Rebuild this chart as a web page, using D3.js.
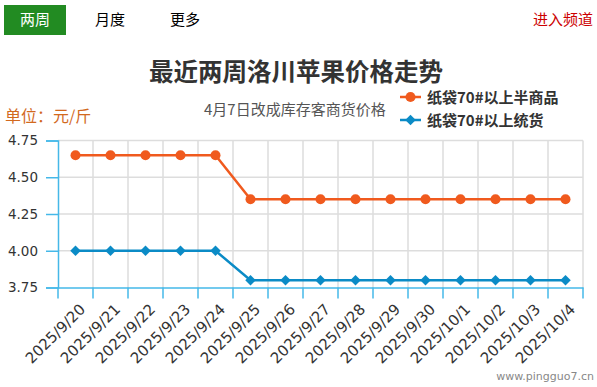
<!DOCTYPE html>
<html>
<head>
<meta charset="utf-8">
<script src="https://cdn.jsdelivr.net/npm/d3@7"></script>
<style>
  body { margin: 0; background: #fff; }
  svg { display: block; font-family: "Noto Sans CJK SC", "DejaVu Sans", sans-serif; }
</style>
</head>
<body>
<div id="root"></div>
<script>
const dates = ["2025/9/20", "2025/9/21", "2025/9/22", "2025/9/23", "2025/9/24", "2025/9/25", "2025/9/26",
  "2025/9/27", "2025/9/28", "2025/9/29", "2025/9/30", "2025/10/1", "2025/10/2", "2025/10/3", "2025/10/4"];
const halfGoods = [4.65, 4.65, 4.65, 4.65, 4.65, 4.35, 4.35, 4.35, 4.35, 4.35, 4.35, 4.35, 4.35, 4.35, 4.35];
const tongHuo = [4.00, 4.00, 4.00, 4.00, 4.00, 3.80, 3.80, 3.80, 3.80, 3.80, 3.80, 3.80, 3.80, 3.80, 3.80];
const yTicks = [3.75, 4.00, 4.25, 4.50, 4.75];
const tabs = ["两周", "月度", "更多"];

const width = 597, height = 387;
const orange = "#f05a1e", blue = "#0b8bc6", axisBlue = "#45b8e8";

const svg = d3.select("#root").append("svg").attr("width", width).attr("height", height);

// tabs
svg.append("rect").attr("x", 4).attr("y", 5).attr("width", 62).attr("height", 30).attr("fill", "#228b22");
svg.selectAll("text.tab").data(tabs).join("text")
  .attr("class", "tab")
  .attr("x", (d, i) => 35 + i * 75).attr("y", 25)
  .attr("text-anchor", "middle").attr("font-size", 15)
  .attr("fill", (d, i) => i == 0 ? "#fff" : "#000")
  .text(d => d);
svg.append("text").attr("x", 593).attr("y", 25).attr("text-anchor", "end")
  .attr("font-size", 15).attr("fill", "#cc0000").text("进入频道");

// titles
svg.append("text").attr("x", 296).attr("y", 81).attr("text-anchor", "middle")
  .attr("font-size", 24.5).attr("font-weight", "bold").attr("fill", "#333").text("最近两周洛川苹果价格走势");
svg.append("text").attr("x", 5).attr("y", 122).attr("font-size", 16).attr("fill", "#d2691e").text("单位：元/斤");
svg.append("text").attr("x", 204).attr("y", 115).attr("font-size", 15).attr("fill", "#555").text("4月7日改成库存客商货价格");

const x = d3.scaleBand().domain(dates).range([58, 583]);
const y = d3.scaleLinear().domain([3.75, 4.75]).range([287.5, 140.5]);

// grid
const grid = svg.append("g").attr("stroke", "#ddd").attr("stroke-width", 1.5);
grid.selectAll("line.v").data(dates.slice(1).concat(["end"])).join("line")
  .attr("x1", (d, i) => x(dates[0]) + (i + 1) * x.bandwidth())
  .attr("x2", (d, i) => x(dates[0]) + (i + 1) * x.bandwidth())
  .attr("y1", y(4.75)).attr("y2", y(3.75));
grid.selectAll("line.h").data(yTicks.slice(1)).join("line")
  .attr("x1", 58).attr("x2", 583)
  .attr("y1", d => y(d)).attr("y2", d => y(d));

// axes
const yAxis = d3.axisLeft(y).tickValues(yTicks).tickFormat(d3.format(".2f")).tickSize(12).tickPadding(8);
const gy = svg.append("g").attr("transform", "translate(58,0)").call(yAxis);
gy.selectAll("path, line").attr("stroke", axisBlue).attr("stroke-width", 1.5);
gy.selectAll("text").attr("font-size", 13.5).attr("fill", "#333").attr("font-family", "DejaVu Sans");

const xAxis = d3.axisBottom(x).tickSize(0).tickSizeOuter(0);
const gx = svg.append("g").attr("transform", `translate(0,${y(3.75)})`).call(xAxis);
gx.select("path").attr("stroke", axisBlue).attr("stroke-width", 1.5);
gx.selectAll("text")
  .attr("font-size", 15).attr("fill", "#333").attr("font-family", "DejaVu Sans")
  .attr("text-anchor", "end")
  .attr("transform", "translate(7,19) rotate(-45)")
  .attr("dy", "0.35em").attr("y", 0);
svg.append("g").attr("stroke", axisBlue).attr("stroke-width", 1.5)
  .selectAll("line").data(dates.concat(["end"])).join("line")
  .attr("x1", (d, i) => 58 + i * x.bandwidth()).attr("x2", (d, i) => 58 + i * x.bandwidth())
  .attr("y1", y(3.75)).attr("y2", y(3.75) + 11);

// series
const cx = d => x(d) + x.bandwidth() / 2;
const line = d3.line().x((d, i) => cx(dates[i])).y(d => y(d));
svg.append("path").attr("d", line(halfGoods)).attr("fill", "none").attr("stroke", orange).attr("stroke-width", 2.5);
svg.selectAll("circle.pt").data(halfGoods).join("circle")
  .attr("cx", (d, i) => cx(dates[i])).attr("cy", d => y(d)).attr("r", 5).attr("fill", orange);
svg.append("path").attr("d", line(tongHuo)).attr("fill", "none").attr("stroke", blue).attr("stroke-width", 2.5);
const diamond = d3.symbol().type(d3.symbolDiamond2).size(70);
svg.selectAll("path.dm").data(tongHuo).join("path")
  .attr("class", "dm")
  .attr("transform", (d, i) => `translate(${cx(dates[i])},${y(d)})`)
  .attr("d", diamond).attr("fill", blue);

// legend
const legend = [{ name: "纸袋70#以上半商品", color: orange, sym: "circle" }, { name: "纸袋70#以上统货", color: blue, sym: "diamond" }];
const lg = svg.selectAll("g.lg").data(legend).join("g")
  .attr("transform", (d, i) => `translate(400,${97 + i * 23})`);
lg.append("line").attr("x1", 0).attr("x2", 21).attr("stroke", d => d.color).attr("stroke-width", 2.5);
lg.append("path").attr("transform", "translate(10.5,0)")
  .attr("d", d => d.sym == "circle" ? d3.symbol().type(d3.symbolCircle).size(80)() : diamond())
  .attr("fill", d => d.color);
lg.append("text").attr("x", 27).attr("y", 5.5).attr("font-size", 15).attr("font-weight", "bold")
  .attr("fill", "#333").text(d => d.name);

svg.append("text").attr("x", 594).attr("y", 380).attr("text-anchor", "end")
  .attr("font-size", 11).attr("fill", "#888").attr("font-family", "DejaVu Sans").text("www.pingguo7.cn");
</script>
</body>
</html>
